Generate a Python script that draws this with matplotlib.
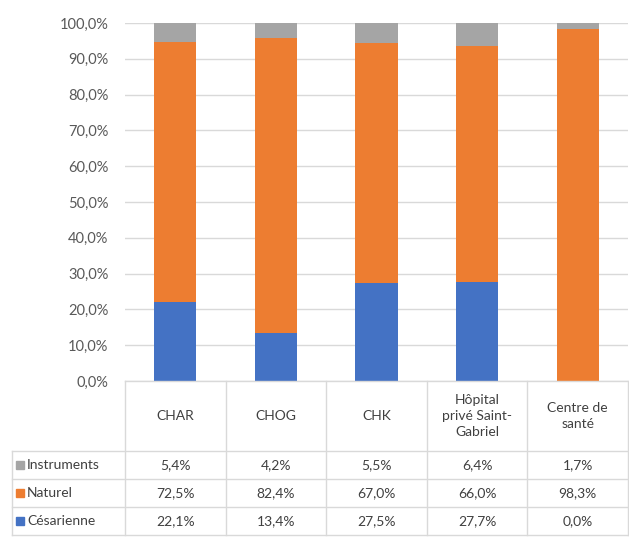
import numpy as np
import matplotlib.pyplot as plt

plt.rcParams['font.family'] = ['Lato', 'DejaVu Sans']

categories = ["CHAR", "CHOG", "CHK", "Hôpital\nprivé Saint-\nGabriel", "Centre de\nsanté"]
cesarienne = [22.1, 13.4, 27.5, 27.7, 0.0]
naturel = [72.5, 82.4, 67.0, 66.0, 98.3]
instruments = [5.4, 4.2, 5.5, 6.4, 1.7]

series = [("Instruments", instruments, "#A5A5A5"),
          ("Naturel", naturel, "#ED7D31"),
          ("Césarienne", cesarienne, "#4472C4")]

W, H = 629, 537
fig = plt.figure(figsize=(W / 100, H / 100), dpi=100)

# plot area in pixel coords
left, right, top, bottom = 125, 628, 23, 381
ax = fig.add_axes([left / W, 1 - bottom / H, (right - left) / W, (bottom - top) / H])

x = np.arange(len(categories))
base = np.zeros(len(categories))
for name, vals, col in series[::-1]:
    ax.bar(x, vals, 0.42, bottom=base, color=col, zorder=3)
    base += np.array(vals)

ax.set_xlim(-0.5, len(categories) - 0.5)
ax.set_ylim(0, 100)
ax.set_yticks(np.arange(0, 101, 10))
ax.set_yticklabels([f"{v:.1f}%".replace(".", ",") for v in np.arange(0, 101, 10)])
ax.tick_params(axis='y', length=0, pad=12, labelsize=10.5, labelcolor="#595959")
ax.set_xticks([])
ax.grid(axis='y', color="#D9D9D9", linewidth=1, zorder=0)
for s in ax.spines.values():
    s.set_visible(False)

# data table drawn in pixel coords
tab = fig.add_axes([0, 0, 1, 1])
tab.set_xlim(0, W)
tab.set_ylim(H, 0)
tab.axis('off')

lc = "#D9D9D9"
colw = (right - left) / len(categories)
rows_y = [451, 479, 507, 535]
tab.plot([left, right], [bottom, bottom], color=lc, lw=1)
for i in range(len(categories) + 1):
    xx = left + i * colw
    tab.plot([xx, xx], [bottom, rows_y[-1]], color=lc, lw=1)
tab.plot([12, 12], [rows_y[0], rows_y[-1]], color=lc, lw=1)
for yy in rows_y:
    tab.plot([12, right], [yy, yy], color=lc, lw=1)

txt = "#404040"
for i, c in enumerate(categories):
    tab.text(left + (i + 0.5) * colw, (bottom + rows_y[0]) / 2, c, ha='center', va='center',
             fontsize=10, color=txt, linespacing=1.35)

for r, (name, vals, col) in enumerate(series):
    yc = (rows_y[r] + rows_y[r + 1]) / 2
    tab.add_patch(plt.Rectangle((16, yc - 4), 8, 8, color=col))
    tab.text(27, yc, name, ha='left', va='center', fontsize=10, color=txt)
    for i, v in enumerate(vals):
        tab.text(left + (i + 0.5) * colw, yc, f"{v:.1f}%".replace(".", ","),
                 ha='center', va='center', fontsize=10, color=txt)

fig.savefig("out.png", dpi=100)
